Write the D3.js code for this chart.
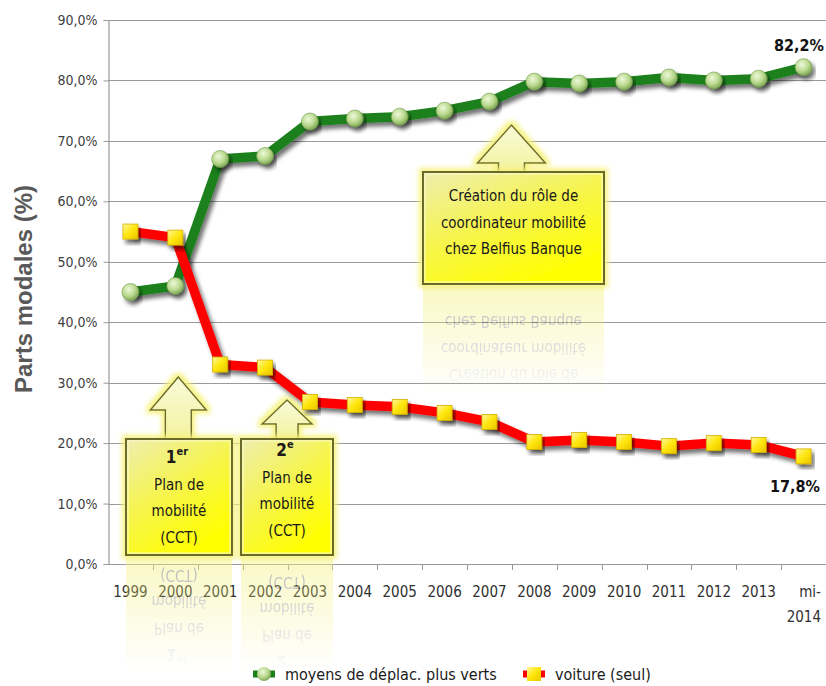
<!DOCTYPE html>
<html>
<head>
<meta charset="utf-8">
<script src="https://cdn.jsdelivr.net/npm/d3@7"></script>
<style>
  body { margin: 0; background: #fff; }
  svg { display: block; }
  .narrow { font-family: "Liberation Sans Narrow", "DejaVu Sans Condensed", sans-serif; }
</style>
</head>
<body>
<svg id="chart" width="826" height="686"></svg>
<script>
// data
const categories = ["1999", "2000", "2001", "2002", "2003", "2004", "2005", "2006",
  "2007", "2008", "2009", "2010", "2011", "2012", "2013", "mi-2014"];
const greener = [45.0, 46.0, 67.0, 67.5, 73.2, 73.7, 74.0, 75.0, 76.5, 79.8, 79.5, 79.8, 80.5, 80.0, 80.3, 82.2];
const voiture = [55.0, 54.0, 33.0, 32.5, 26.8, 26.3, 26.0, 25.0, 23.5, 20.2, 20.5, 20.2, 19.5, 20.0, 19.7, 17.8];
const yTicks = [0, 10, 20, 30, 40, 50, 60, 70, 80, 90];
const seriesNames = ["moyens de déplac. plus verts", "voiture (seul)"];

// annotation boxes (text lines) and the category their arrow points at
const notes = [
  { cat: "2000", dx: 3, tip: 377, head: 410, hw: 28, sw: 13, box: [126, 439, 232, 555],
    lines: [["1", "er"], ["Plan de"], ["mobilité"], ["(CCT)"]], y0: 463 },
  { cat: "2002", dx: 22, tip: 400, head: 424, hw: 25, sw: 11, box: [241, 439, 333, 555],
    lines: [["2", "e"], ["Plan de"], ["mobilité"], ["(CCT)"]], y0: 456 },
  { cat: "2007", dx: 22, tip: 125, head: 163, hw: 34, sw: 13, box: [423, 172, 604, 284],
    lines: [["Création du rôle de"], ["coordinateur mobilité"], ["chez Belfius Banque"]], y0: 201 }
];

const svg = d3.select("#chart");
const plotLeft = 108, plotRight = 826, plotTop = 20, plotBottom = 564;

let x = d3.scaleBand().domain(categories).range([plotLeft, plotRight]);
let y = d3.scaleLinear().domain([0, 90]).range([plotBottom, plotTop]);
let cx = (c) => x(c) + x.bandwidth() / 2;

const fr = d3.formatLocale({ decimal: ",", thousands: " ", grouping: [3], currency: ["", "€"] });
let fmt = (v) => fr.format(".1f")(v) + "%";

// defs
let defs = svg.append("defs");
let sh = defs.append("filter").attr("id", "shadow").attr("x", "-20%").attr("y", "-20%").attr("width", "140%").attr("height", "160%");
sh.append("feDropShadow").attr("dx", 3).attr("dy", 4).attr("stdDeviation", 2.2)
  .attr("flood-color", "#000").attr("flood-opacity", 0.55);

let glow = defs.append("filter").attr("id", "glow").attr("x", "-20%").attr("y", "-20%").attr("width", "140%").attr("height", "140%");
glow.append("feMorphology").attr("in", "SourceAlpha").attr("operator", "dilate").attr("radius", 3).attr("result", "d");
glow.append("feGaussianBlur").attr("in", "d").attr("stdDeviation", 2.5).attr("result", "b");
glow.append("feFlood").attr("flood-color", "#f6f27a").attr("flood-opacity", 0.9);
glow.append("feComposite").attr("in2", "b").attr("operator", "in").attr("result", "g");
let gm = glow.append("feMerge");
gm.append("feMergeNode").attr("in", "g");
gm.append("feMergeNode").attr("in", "SourceGraphic");

let boxGrad = defs.append("linearGradient").attr("id", "boxGrad").attr("x1", 0).attr("y1", 0).attr("x2", 0.6).attr("y2", 1);
boxGrad.append("stop").attr("offset", "0%").attr("stop-color", "#eeeeb0");
boxGrad.append("stop").attr("offset", "55%").attr("stop-color", "#f7f545");
boxGrad.append("stop").attr("offset", "100%").attr("stop-color", "#ffff00");

let arrGrad = defs.append("linearGradient").attr("id", "arrGrad").attr("x1", 0).attr("y1", 0).attr("x2", 0).attr("y2", 1);
arrGrad.append("stop").attr("offset", "0%").attr("stop-color", "#fafad8");
arrGrad.append("stop").attr("offset", "100%").attr("stop-color", "#f3f3a0");

let ballGrad = defs.append("radialGradient").attr("id", "ballGrad").attr("cx", "40%").attr("cy", "35%").attr("r", "65%");
ballGrad.append("stop").attr("offset", "0%").attr("stop-color", "#eef8d8");
ballGrad.append("stop").attr("offset", "60%").attr("stop-color", "#b9d98e");
ballGrad.append("stop").attr("offset", "100%").attr("stop-color", "#7fa855");

let sqGrad = defs.append("linearGradient").attr("id", "sqGrad").attr("x1", 0).attr("y1", 0).attr("x2", 1).attr("y2", 1);
sqGrad.append("stop").attr("offset", "0%").attr("stop-color", "#fff7a0");
sqGrad.append("stop").attr("offset", "50%").attr("stop-color", "#ffe60a");
sqGrad.append("stop").attr("offset", "100%").attr("stop-color", "#e8c400");

let fade = defs.append("linearGradient").attr("id", "fade").attr("x1", 0).attr("y1", 0).attr("x2", 0).attr("y2", 1);
fade.append("stop").attr("offset", "0%").attr("stop-color", "#fff").attr("stop-opacity", 0.45);
fade.append("stop").attr("offset", "100%").attr("stop-color", "#fff").attr("stop-opacity", 0);

// gridlines
svg.append("g")
  .selectAll("line")
  .data(yTicks)
  .enter()
  .append("line")
  .attr("x1", plotLeft)
  .attr("x2", plotRight)
  .attr("y1", (d) => Math.round(y(d)) + 0.5)
  .attr("y2", (d) => Math.round(y(d)) + 0.5)
  .attr("stroke", "#9a9a9a")
  .attr("stroke-width", 1.2);

// y axis
let yAxis = svg.append("g")
  .attr("class", "narrow")
  .attr("transform", "translate(" + (plotLeft + 0.5) + ",0)")
  .call(d3.axisLeft(y).tickValues(yTicks).tickSize(5).tickPadding(6).tickFormat(fmt));
yAxis.select(".domain").attr("stroke", "#9a9a9a").attr("stroke-width", 1.2);
yAxis.selectAll(".tick line").attr("stroke", "#9a9a9a");
yAxis.selectAll("text").attr("font-size", 14).attr("fill", "#404040")
  .attr("font-family", "Liberation Sans Narrow, DejaVu Sans Condensed, sans-serif");

// x axis ticks at band boundaries
let bounds = categories.map((c) => x(c)).concat([plotRight]);
svg.append("g")
  .selectAll("line")
  .data(bounds.slice(1))
  .enter()
  .append("line")
  .attr("x1", (d) => Math.round(d) + 0.5)
  .attr("x2", (d) => Math.round(d) + 0.5)
  .attr("y1", plotBottom)
  .attr("y2", plotBottom + 6)
  .attr("stroke", "#9a9a9a");

let xLab = svg.append("g").attr("class", "narrow")
  .selectAll("text")
  .data(categories)
  .enter()
  .append("text")
  .attr("x", (d) => cx(d))
  .attr("y", plotBottom + 33)
  .attr("text-anchor", (d) => (d.indexOf("mi-") === 0 ? "end" : "middle"))
  .attr("font-size", 15)
  .attr("fill", "#303030");
xLab.each(function (d) {
  let parts = d.indexOf("mi-") === 0 ? ["mi-", d.slice(3)] : [d];
  d3.select(this).selectAll("tspan")
    .data(parts)
    .enter()
    .append("tspan")
    .attr("x", parts.length > 1 ? plotRight - 5 : cx(d))
    .attr("dy", (p, i) => (i === 0 ? 0 : 25))
    .text((p) => p);
});

// axis title
svg.append("text")
  .attr("transform", "translate(32,289) rotate(-90)")
  .attr("text-anchor", "middle")
  .attr("font-family", "Liberation Sans, Arial, sans-serif")
  .attr("font-weight", "bold")
  .attr("font-size", 24)
  .attr("fill", "#595959")
  .text("Parts modales (%)");

// annotations with reflections
function arrowPath(n) {
  let tx = cx(n.cat) + n.dx;
  let bt = n.box[1];
  return "M" + tx + "," + n.tip +
    "L" + (tx + n.hw) + "," + n.head +
    "L" + (tx + n.sw) + "," + n.head +
    "L" + (tx + n.sw) + "," + bt +
    "L" + (tx - n.sw) + "," + bt +
    "L" + (tx - n.sw) + "," + n.head +
    "L" + (tx - n.hw) + "," + n.head + "Z";
}

function drawBoxText(g, n, color) {
  let midX = (n.box[0] + n.box[2]) / 2;
  let t = g.append("text")
    .attr("class", "narrow")
    .attr("text-anchor", "middle")
    .attr("font-size", 15)
    .attr("fill", color);
  n.lines.forEach(function (ln, i) {
    if (ln.length > 1) {
      let t2 = g.append("text")
        .attr("class", "narrow")
        .attr("x", midX - 2).attr("y", n.y0 + i * 26.5)
        .attr("text-anchor", "middle")
        .attr("fill", color).attr("font-weight", "bold").attr("font-size", 17);
      t2.append("tspan").text(ln[0]);
      t2.append("tspan").attr("dy", -8).attr("font-size", 11).text(ln[1]);
    } else {
      t.append("tspan").attr("x", midX).attr("y", n.y0 + i * 26.5).text(ln[0]);
    }
  });
}

notes.forEach(function (n, k) {
  let w = n.box[2] - n.box[0], h = n.box[3] - n.box[1];
  // reflection
  let mask = defs.append("mask").attr("id", "m" + k).attr("maskUnits", "userSpaceOnUse")
    .attr("x", 0).attr("y", 0).attr("width", 826).attr("height", 686);
  mask.append("rect").attr("x", n.box[0] - 5).attr("y", n.box[3]).attr("width", w + 10).attr("height", h)
    .attr("fill", "url(#fade)");
  let refl = svg.append("g").attr("mask", "url(#m" + k + ")")
    .append("g").attr("transform", "translate(0," + (2 * n.box[3] + 2) + ") scale(1,-1)");
  refl.append("rect").attr("x", n.box[0]).attr("y", n.box[1]).attr("width", w).attr("height", h)
    .attr("fill", "#f4f07a");
  drawBoxText(refl, n, "#555");

  let g = svg.append("g");
  g.append("path").attr("d", arrowPath(n))
    .attr("fill", "url(#arrGrad)").attr("stroke", "#6d6d2e").attr("stroke-width", 1.5)
    .attr("filter", "url(#glow)");
  g.append("rect").attr("x", n.box[0]).attr("y", n.box[1]).attr("width", w).attr("height", h)
    .attr("fill", "url(#boxGrad)").attr("stroke", "#6b6b2c").attr("stroke-width", 2)
    .attr("filter", "url(#glow)");
  g.append("rect").attr("x", n.box[0] + 2).attr("y", n.box[1] + 2).attr("width", w - 4).attr("height", h - 4)
    .attr("fill", "none").attr("stroke", "#fbfbd0").attr("stroke-width", 1);
  drawBoxText(g, n, "#1a1a1a");
});

// lines
let line = d3.line().x((d, i) => cx(categories[i])).y((d) => y(d)).curve(d3.curveLinear);

svg.append("path").datum(greener)
  .attr("d", line).attr("fill", "none").attr("stroke", "#1a801a").attr("stroke-width", 9.5)
  .attr("stroke-linejoin", "round").attr("filter", "url(#shadow)");
svg.append("g").selectAll("circle").data(greener).enter().append("circle")
  .attr("cx", (d, i) => cx(categories[i])).attr("cy", (d) => y(d)).attr("r", 8.5)
  .attr("fill", "url(#ballGrad)").attr("stroke", "#6f9a4a").attr("stroke-width", 0.6)
  .attr("filter", "url(#shadow)");

svg.append("path").datum(voiture)
  .attr("d", line).attr("fill", "none").attr("stroke", "#ff0000").attr("stroke-width", 9.5)
  .attr("stroke-linejoin", "round").attr("filter", "url(#shadow)");
svg.append("g").selectAll("rect").data(voiture).enter().append("rect")
  .attr("x", (d, i) => cx(categories[i]) - 7.5).attr("y", (d) => y(d) - 7.5)
  .attr("width", 15).attr("height", 15)
  .attr("fill", "url(#sqGrad)").attr("stroke", "#d4b000").attr("stroke-width", 0.8)
  .attr("filter", "url(#shadow)");

// end value labels
let last = categories.length - 1;
svg.append("text").attr("class", "narrow")
  .attr("x", plotRight - 2).attr("y", y(greener[last]) - 16)
  .attr("text-anchor", "end").attr("font-size", 16).attr("font-weight", "bold").attr("fill", "#111")
  .text(fmt(greener[last]));
svg.append("text").attr("class", "narrow")
  .attr("x", plotRight - 6).attr("y", y(voiture[last]) + 36)
  .attr("text-anchor", "end").attr("font-size", 16).attr("font-weight", "bold").attr("fill", "#111")
  .text(fmt(voiture[last]));

// legend
let legend = svg.append("g").attr("class", "narrow");
let lx = [253, 523];
let lcol = ["#1a801a", "#ff0000"];
legend.selectAll("line").data(lx).enter().append("line")
  .attr("x1", (d) => d).attr("x2", (d) => d + 22).attr("y1", 674).attr("y2", 674)
  .attr("stroke", (d, i) => lcol[i]).attr("stroke-width", 7);
legend.append("circle").attr("cx", lx[0] + 11).attr("cy", 674).attr("r", 7)
  .attr("fill", "url(#ballGrad)");
legend.append("rect").attr("x", lx[1] + 4).attr("y", 667).attr("width", 14).attr("height", 14)
  .attr("fill", "url(#sqGrad)");
legend.selectAll("text").data(seriesNames).enter().append("text")
  .attr("x", (d, i) => lx[i] + 32).attr("y", 680)
  .attr("font-size", 16).attr("fill", "#1a1a1a")
  .text((d) => d);
</script>
</body>
</html>
